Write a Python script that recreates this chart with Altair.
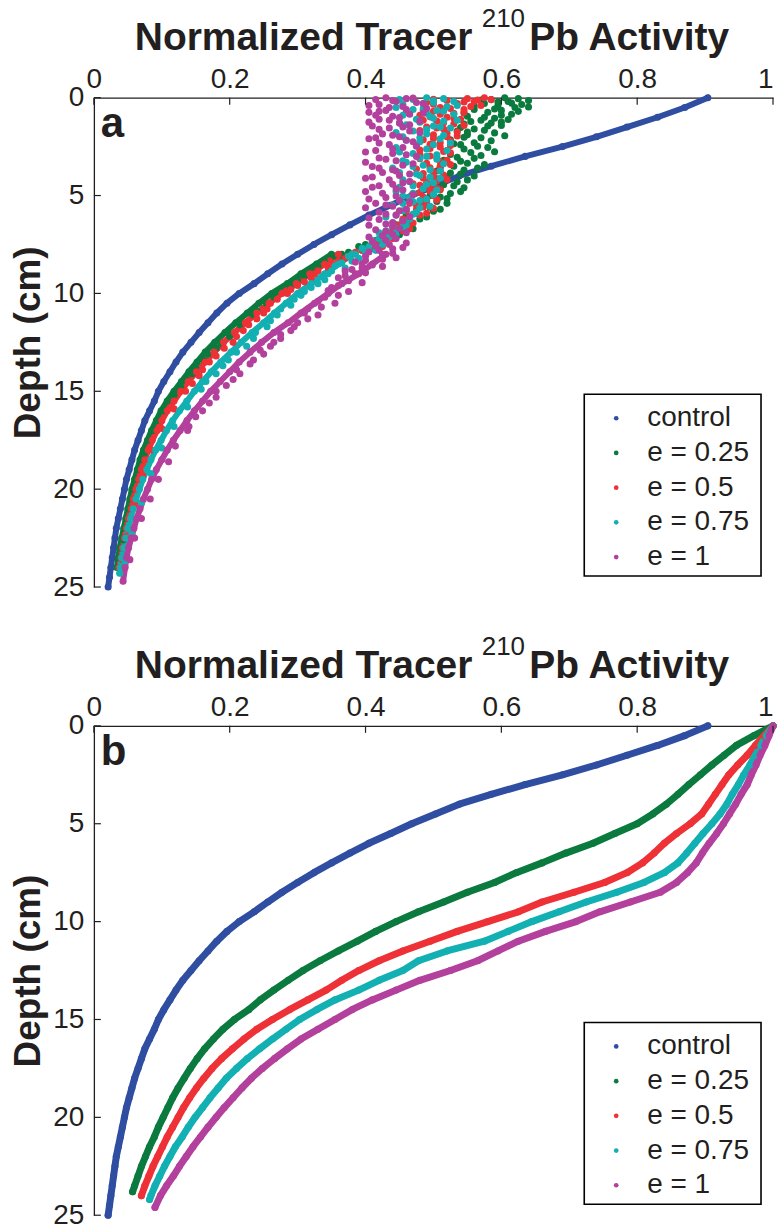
import altair as alt
import pandas as pd

FONT = "Liberation Sans"
INK = "#231f20"
SERIES = ["control", "e = 0.25", "e = 0.5", "e = 0.75", "e = 1"]
COLORS = ["#2f4ea2", "#0a7a3e", "#ee3136", "#12b0b2", "#b2409c"]
X_TICKS = [0, 0.2, 0.4, 0.6, 0.8, 1]
Y_TICKS = [0, 5, 10, 15, 20, 25]

# ---- control profile (depth cm, normalized activity) ----
control = [(0.0, 0.904), (0.5, 0.87), (1.0, 0.83), (1.5, 0.785), (2.0, 0.74), (2.5, 0.69),
           (3.0, 0.635), (3.5, 0.585), (4.0, 0.538), (4.5, 0.503), (5.0, 0.468), (5.5, 0.437),
           (6.0, 0.405), (6.5, 0.377), (7.0, 0.35), (7.5, 0.324), (8.0, 0.300), (8.5, 0.277),
           (9.0, 0.256), (9.5, 0.236), (10.0, 0.214), (10.5, 0.196), (11.0, 0.181), (11.5, 0.168),
           (12.0, 0.155), (12.5, 0.143), (13.0, 0.131), (13.5, 0.121), (14.0, 0.112), (14.5, 0.103),
           (15.0, 0.095), (15.5, 0.089), (16.0, 0.082), (16.5, 0.075), (17.0, 0.070), (17.5, 0.065),
           (18.0, 0.060), (18.5, 0.056), (19.0, 0.052), (19.5, 0.048), (20.0, 0.045), (20.5, 0.042),
           (21.0, 0.039), (21.5, 0.036), (22.0, 0.033), (22.5, 0.031), (23.0, 0.029), (23.5, 0.027),
           (24.0, 0.025), (24.5, 0.023), (25.0, 0.021)]

# ---- panel b profiles ----
b_e025 = [(0, 1.0), (0.5, 0.972), (1, 0.946), (1.5, 0.928), (2, 0.91), (2.5, 0.893), (3, 0.876),
          (3.5, 0.86), (4, 0.843), (4.5, 0.823), (5, 0.8), (5.5, 0.767), (6, 0.735), (6.5, 0.695),
          (7, 0.66), (7.5, 0.622), (8, 0.59), (8.5, 0.55), (9, 0.515), (9.5, 0.478), (10, 0.445),
          (10.5, 0.415), (11, 0.388), (11.5, 0.36), (12, 0.333), (12.5, 0.308), (13, 0.286),
          (13.5, 0.265), (14, 0.245), (14.5, 0.228), (15, 0.207), (15.5, 0.19), (16, 0.176),
          (16.5, 0.163), (17, 0.152), (17.5, 0.142), (18, 0.133), (18.5, 0.124), (19, 0.116),
          (19.5, 0.109), (20, 0.102), (20.5, 0.095), (21, 0.089), (21.5, 0.082), (22, 0.076),
          (22.5, 0.07), (23, 0.065), (23.5, 0.06), (23.8, 0.057)]
b_e050 = [(0, 1.0), (0.5, 0.987), (1, 0.974), (1.5, 0.962), (2, 0.948), (2.5, 0.935), (3, 0.925),
          (3.5, 0.915), (4, 0.905), (4.5, 0.895), (5, 0.878), (5.5, 0.858), (6, 0.84), (6.5, 0.825),
          (7, 0.808), (7.5, 0.785), (8, 0.752), (8.5, 0.707), (9, 0.66), (9.5, 0.625), (10, 0.58),
          (10.5, 0.535), (11, 0.495), (11.5, 0.455), (12, 0.42), (12.5, 0.39), (13, 0.365),
          (13.5, 0.342), (14, 0.315), (14.5, 0.288), (15, 0.263), (15.5, 0.24), (16, 0.221),
          (16.5, 0.204), (17, 0.188), (17.5, 0.174), (18, 0.162), (18.5, 0.151), (19, 0.141),
          (19.5, 0.132), (20, 0.124), (20.5, 0.116), (21, 0.108), (21.5, 0.101), (22, 0.094),
          (22.5, 0.087), (23, 0.081), (23.5, 0.075), (24, 0.07)]
b_e075 = [(0, 1.0), (0.5, 0.99), (1, 0.982), (1.5, 0.974), (2, 0.966), (2.5, 0.957), (3, 0.949),
          (3.5, 0.94), (4, 0.932), (4.5, 0.922), (5, 0.91), (5.5, 0.897), (6, 0.885), (6.5, 0.873),
          (7, 0.86), (7.5, 0.84), (8, 0.81), (8.5, 0.77), (9, 0.725), (9.5, 0.685), (10, 0.645),
          (10.5, 0.61), (11, 0.575), (11.5, 0.52), (12, 0.478), (12.5, 0.455), (13, 0.42),
          (13.5, 0.39), (14, 0.355), (14.5, 0.328), (15, 0.303), (15.5, 0.283), (16, 0.263),
          (16.5, 0.244), (17, 0.226), (17.5, 0.21), (18, 0.195), (18.5, 0.183), (19, 0.171),
          (19.5, 0.16), (20, 0.149), (20.5, 0.139), (21, 0.13), (21.5, 0.12), (22, 0.112),
          (22.5, 0.104), (23, 0.097), (23.5, 0.09), (24, 0.084), (24.2, 0.082)]
b_e1 = [(0, 1.0), (0.5, 0.994), (1, 0.988), (1.5, 0.981), (2, 0.975), (2.5, 0.968), (3, 0.962),
        (3.5, 0.953), (4, 0.945), (4.5, 0.936), (5, 0.927), (5.5, 0.917), (6, 0.906), (6.5, 0.896),
        (7, 0.887), (7.5, 0.874), (8, 0.858), (8.5, 0.834), (9, 0.79), (9.5, 0.745), (10, 0.71),
        (10.5, 0.665), (11, 0.625), (11.5, 0.595), (12, 0.565), (12.5, 0.525), (13, 0.48),
        (13.5, 0.445), (14, 0.41), (14.5, 0.38), (15, 0.355), (15.5, 0.33), (16, 0.305),
        (16.5, 0.285), (17, 0.266), (17.5, 0.248), (18, 0.232), (18.5, 0.218), (19, 0.205),
        (19.5, 0.192), (20, 0.18), (20.5, 0.168), (21, 0.157), (21.5, 0.146), (22, 0.136),
        (22.5, 0.126), (23, 0.117), (23.5, 0.107), (24, 0.098), (24.6, 0.09)]

# ---- panel a: smooth lower bands ----
a_e025 = [(8, 0.35), (8.5, 0.328), (9, 0.305), (9.5, 0.285), (10, 0.262), (10.5, 0.243), (11, 0.226),
          (11.5, 0.209), (12, 0.193), (12.5, 0.178), (13, 0.164), (13.5, 0.152), (14, 0.14),
          (14.5, 0.129), (15, 0.118), (15.5, 0.108), (16, 0.099), (16.5, 0.092), (17, 0.085),
          (17.5, 0.079), (18, 0.073), (18.5, 0.068), (19, 0.064), (19.5, 0.06), (20, 0.056),
          (20.5, 0.053), (21, 0.05), (21.5, 0.047), (22, 0.044), (22.5, 0.041), (23, 0.038),
          (23.5, 0.036), (24, 0.034)]
a_e050 = [(8, 0.36), (8.5, 0.34), (9, 0.318), (9.5, 0.298), (10, 0.277), (10.5, 0.258), (11, 0.24),
          (11.5, 0.223), (12, 0.207), (12.5, 0.191), (13, 0.177), (13.5, 0.164), (14, 0.151),
          (14.5, 0.139), (15, 0.128), (15.5, 0.118), (16, 0.108), (16.5, 0.1), (17, 0.093),
          (17.5, 0.086), (18, 0.08), (18.5, 0.075), (19, 0.07), (19.5, 0.066), (20, 0.062),
          (20.5, 0.058), (21, 0.055), (21.5, 0.051), (22, 0.048), (22.5, 0.045), (23, 0.042),
          (23.5, 0.04), (24, 0.037)]
a_e075 = [(8, 0.38), (8.5, 0.36), (9, 0.34), (9.5, 0.32), (10, 0.30), (10.5, 0.283), (11, 0.266),
          (11.5, 0.25), (12, 0.233), (12.5, 0.217), (13, 0.202), (13.5, 0.187), (14, 0.173),
          (14.5, 0.16), (15, 0.148), (15.5, 0.137), (16, 0.126), (16.5, 0.116), (17, 0.107),
          (17.5, 0.099), (18, 0.091), (18.5, 0.084), (19, 0.078), (19.5, 0.072), (20, 0.067),
          (20.5, 0.062), (21, 0.058), (21.5, 0.054), (22, 0.05), (22.5, 0.047), (23, 0.044),
          (23.5, 0.041), (24, 0.039), (24.3, 0.038)]
a_e1 = [(8, 0.43), (8.5, 0.41), (9, 0.39), (9.5, 0.365), (10, 0.345), (10.5, 0.325), (11, 0.305),
        (11.5, 0.286), (12, 0.265), (12.5, 0.247), (13, 0.23), (13.5, 0.214), (14, 0.2),
        (14.5, 0.186), (15, 0.172), (15.5, 0.16), (16, 0.148), (16.5, 0.137), (17, 0.127),
        (17.5, 0.117), (18, 0.108), (18.5, 0.1), (19, 0.092), (19.5, 0.085), (20, 0.079),
        (20.5, 0.073), (21, 0.068), (21.5, 0.063), (22, 0.059), (22.5, 0.055), (23, 0.051),
        (23.5, 0.048), (24, 0.046), (24.7, 0.043)]

# ---- panel a: scattered points (upper clouds and band scatter) ----
a_e025_cloud = [(0.0, 0.605), (0.05, 0.625), (0.1, 0.585), (0.15, 0.64), (0.2, 0.61), (0.3, 0.575),
                (0.35, 0.63), (0.4, 0.595), (0.5, 0.62), (0.6, 0.56), (0.65, 0.6), (0.75, 0.58),
                (0.85, 0.615), (0.95, 0.55), (1.05, 0.59), (1.15, 0.57), (1.25, 0.6), (1.35, 0.545),
                (1.45, 0.58), (1.6, 0.56), (1.7, 0.535), (1.8, 0.59), (1.9, 0.55), (2.05, 0.57),
                (2.15, 0.525), (2.3, 0.56), (2.4, 0.54), (2.55, 0.58), (2.7, 0.52), (2.8, 0.555),
                (2.95, 0.57), (3.05, 0.535), (3.2, 0.515), (3.35, 0.55), (3.5, 0.53), (3.6, 0.565),
                (3.75, 0.505), (3.9, 0.54), (4.05, 0.52), (4.2, 0.55), (4.35, 0.5), (4.5, 0.53),
                (4.65, 0.51), (4.8, 0.54), (5.0, 0.495), (5.15, 0.52), (5.3, 0.505), (5.5, 0.485),
                (5.7, 0.51), (5.9, 0.475), (6.1, 0.49), (6.3, 0.465), (6.5, 0.445), (6.7, 0.47),
                (6.9, 0.43), (7.1, 0.44), (7.3, 0.415), (7.5, 0.4), (7.7, 0.41), (7.9, 0.375),
                (8.1, 0.355), (8.3, 0.365), (8.6, 0.33), (8.9, 0.325), (9.3, 0.3), (9.7, 0.29),
                (10.2, 0.265), (10.6, 0.255), (11.1, 0.235), (11.6, 0.215), (12.2, 0.2), (12.8, 0.18),
                (13.4, 0.162), (14.1, 0.145), (14.8, 0.128)]
a_e025_cloud2 = [(0.12, 0.57), (0.22, 0.595), (0.28, 0.615), (0.42, 0.56), (0.48, 0.64), (0.58, 0.59),
                 (0.7, 0.625), (0.78, 0.545), (0.9, 0.6), (1.0, 0.575), (1.12, 0.61), (1.22, 0.555),
                 (1.3, 0.585), (1.42, 0.6), (1.52, 0.54), (1.66, 0.575), (1.76, 0.55), (1.95, 0.605),
                 (2.02, 0.545), (2.2, 0.585), (2.35, 0.53), (2.48, 0.565), (2.62, 0.545), (2.76, 0.59),
                 (2.9, 0.525), (3.1, 0.56), (3.25, 0.54), (3.42, 0.575), (3.55, 0.51), (3.7, 0.545),
                 (3.85, 0.525), (4.0, 0.56), (4.15, 0.505), (4.3, 0.535), (4.45, 0.515), (4.6, 0.545),
                 (4.75, 0.495), (4.9, 0.525), (5.08, 0.51), (5.22, 0.49), (5.4, 0.52), (5.6, 0.495),
                 (5.8, 0.5), (6.0, 0.46), (6.2, 0.48), (6.4, 0.455), (6.6, 0.465), (6.8, 0.44),
                 (7.0, 0.45), (7.2, 0.425), (7.4, 0.42), (7.6, 0.39), (7.8, 0.395), (8.0, 0.365),
                 (8.4, 0.34), (8.8, 0.32), (9.1, 0.31), (9.5, 0.295), (9.9, 0.27), (10.4, 0.252),
                 (10.9, 0.24), (11.4, 0.215), (12.0, 0.198), (12.6, 0.188), (13.1, 0.168), (13.8, 0.15),
                 (14.4, 0.137), (15.2, 0.118), (16.0, 0.104), (17.0, 0.088), (18.2, 0.074),
                 (19.5, 0.062), (21.0, 0.052), (22.6, 0.043)]
a_e050_cloud = [(0.0, 0.575), (0.05, 0.55), (0.1, 0.585), (0.15, 0.52), (0.2, 0.56), (0.25, 0.49),
                (0.3, 0.535), (0.4, 0.57), (0.5, 0.51), (0.6, 0.545), (0.7, 0.5), (0.8, 0.53),
                (0.9, 0.48), (1.0, 0.52), (1.1, 0.54), (1.2, 0.505), (1.35, 0.53), (1.5, 0.49),
                (1.6, 0.515), (1.75, 0.535), (1.9, 0.5), (2.0, 0.52), (2.15, 0.485), (2.3, 0.51),
                (2.45, 0.525), (2.6, 0.495), (2.75, 0.515), (2.9, 0.48), (3.05, 0.505), (3.2, 0.52),
                (3.35, 0.49), (3.5, 0.51), (3.65, 0.475), (3.8, 0.5), (3.95, 0.515), (4.1, 0.485),
                (4.25, 0.505), (4.4, 0.47), (4.55, 0.495), (4.7, 0.51), (4.85, 0.48), (5.0, 0.5),
                (5.15, 0.465), (5.3, 0.49), (5.5, 0.475), (5.65, 0.5), (5.8, 0.46), (6.0, 0.48),
                (6.2, 0.455), (6.4, 0.47), (6.6, 0.44), (6.8, 0.455), (7.0, 0.43), (7.2, 0.44),
                (7.4, 0.415), (7.6, 0.425), (7.8, 0.395), (8.0, 0.38), (8.2, 0.37), (8.45, 0.35),
                (8.7, 0.345), (9.0, 0.325), (9.4, 0.31), (9.8, 0.29), (10.3, 0.27), (10.8, 0.255),
                (11.3, 0.24), (11.9, 0.22), (12.5, 0.205), (13.2, 0.18), (13.9, 0.16), (14.6, 0.145)]
a_e050_cloud2 = [(0.08, 0.5), (0.12, 0.565), (0.22, 0.545), (0.33, 0.5), (0.45, 0.555), (0.55, 0.525),
                 (0.65, 0.485), (0.75, 0.545), (0.85, 0.51), (0.98, 0.495), (1.05, 0.53), (1.15, 0.485),
                 (1.28, 0.515), (1.42, 0.545), (1.55, 0.505), (1.68, 0.48), (1.82, 0.52), (1.96, 0.535),
                 (2.08, 0.5), (2.22, 0.525), (2.38, 0.495), (2.52, 0.51), (2.68, 0.48), (2.82, 0.525),
                 (2.98, 0.495), (3.12, 0.48), (3.28, 0.51), (3.42, 0.525), (3.58, 0.495), (3.72, 0.51),
                 (3.88, 0.485), (4.02, 0.5), (4.18, 0.52), (4.32, 0.49), (4.48, 0.48), (4.62, 0.505),
                 (4.78, 0.495), (4.92, 0.47), (5.08, 0.485), (5.22, 0.505), (5.4, 0.465), (5.58, 0.485),
                 (5.72, 0.475), (5.9, 0.49), (6.1, 0.465), (6.3, 0.46), (6.5, 0.45), (6.7, 0.465),
                 (6.9, 0.44), (7.1, 0.425), (7.3, 0.43), (7.5, 0.41), (7.7, 0.405), (7.9, 0.385),
                 (8.1, 0.375), (8.35, 0.36), (8.6, 0.35), (8.85, 0.33), (9.2, 0.32), (9.6, 0.3),
                 (10.0, 0.285), (10.5, 0.26), (11.0, 0.25), (11.6, 0.228), (12.2, 0.21), (12.8, 0.192),
                 (13.5, 0.17), (14.2, 0.155), (15.0, 0.135), (15.9, 0.118), (16.9, 0.1), (18.0, 0.085),
                 (19.3, 0.072), (20.8, 0.06), (22.4, 0.049), (23.6, 0.042)]
a_e075_cloud = [(0.0, 0.49), (0.05, 0.515), (0.1, 0.47), (0.2, 0.53), (0.25, 0.5), (0.35, 0.455),
                (0.45, 0.52), (0.55, 0.485), (0.65, 0.505), (0.75, 0.46), (0.85, 0.53), (0.95, 0.495),
                (1.1, 0.475), (1.2, 0.515), (1.3, 0.45), (1.45, 0.5), (1.55, 0.525), (1.7, 0.47),
                (1.85, 0.49), (2.0, 0.455), (2.1, 0.51), (2.25, 0.48), (2.4, 0.5), (2.55, 0.445),
                (2.7, 0.52), (2.85, 0.47), (3.0, 0.49), (3.15, 0.505), (3.3, 0.46), (3.45, 0.485),
                (3.6, 0.44), (3.75, 0.51), (3.9, 0.475), (4.05, 0.495), (4.2, 0.455), (4.35, 0.5),
                (4.5, 0.47), (4.65, 0.485), (4.8, 0.445), (4.95, 0.5), (5.1, 0.465), (5.25, 0.48),
                (5.4, 0.455), (5.55, 0.495), (5.7, 0.46), (5.85, 0.475), (6.0, 0.445), (6.2, 0.465),
                (6.4, 0.44), (6.6, 0.455), (6.8, 0.43), (7.0, 0.445), (7.2, 0.42), (7.4, 0.43),
                (7.6, 0.405), (7.8, 0.415), (8.0, 0.385), (8.2, 0.39), (8.45, 0.365), (8.7, 0.37),
                (9.0, 0.345), (9.3, 0.34), (9.7, 0.32), (10.1, 0.305), (10.6, 0.29), (11.1, 0.27),
                (11.7, 0.255), (12.3, 0.235), (13.0, 0.21), (13.7, 0.19), (14.5, 0.165)]
a_e075_cloud2 = [(0.1, 0.45), (0.15, 0.5), (0.3, 0.485), (0.4, 0.535), (0.5, 0.445), (0.6, 0.47),
                 (0.7, 0.515), (0.8, 0.49), (0.9, 0.455), (1.05, 0.5), (1.15, 0.535), (1.25, 0.48),
                 (1.38, 0.46), (1.5, 0.51), (1.62, 0.49), (1.78, 0.445), (1.92, 0.515), (2.05, 0.48),
                 (2.18, 0.46), (2.32, 0.525), (2.46, 0.475), (2.62, 0.49), (2.78, 0.45), (2.92, 0.505),
                 (3.08, 0.48), (3.22, 0.455), (3.38, 0.515), (3.52, 0.47), (3.68, 0.495), (3.82, 0.45),
                 (3.98, 0.48), (4.12, 0.51), (4.28, 0.465), (4.42, 0.49), (4.58, 0.45), (4.72, 0.505),
                 (4.88, 0.47), (5.02, 0.455), (5.18, 0.49), (5.32, 0.47), (5.48, 0.44), (5.62, 0.48),
                 (5.78, 0.455), (5.95, 0.47), (6.1, 0.43), (6.3, 0.455), (6.5, 0.46), (6.7, 0.445),
                 (6.9, 0.42), (7.1, 0.435), (7.3, 0.41), (7.5, 0.425), (7.7, 0.395), (7.9, 0.4),
                 (8.1, 0.375), (8.35, 0.38), (8.6, 0.355), (8.85, 0.35), (9.15, 0.335), (9.5, 0.33),
                 (9.9, 0.31), (10.3, 0.295), (10.8, 0.275), (11.4, 0.26), (12.0, 0.238), (12.7, 0.225),
                 (13.4, 0.198), (14.1, 0.18), (14.9, 0.158), (15.8, 0.138), (16.8, 0.118), (17.9, 0.1),
                 (19.2, 0.084), (20.7, 0.07), (22.3, 0.056), (23.7, 0.046)]
a_e1_cloud = [(0.0, 0.43), (0.05, 0.46), (0.1, 0.415), (0.2, 0.445), (0.25, 0.475), (0.35, 0.42),
              (0.45, 0.455), (0.55, 0.49), (0.65, 0.43), (0.75, 0.405), (0.85, 0.465), (0.95, 0.44),
              (1.1, 0.42), (1.2, 0.48), (1.3, 0.45), (1.45, 0.41), (1.55, 0.435), (1.7, 0.465),
              (1.85, 0.425), (2.0, 0.45), (2.1, 0.405), (2.25, 0.47), (2.4, 0.435), (2.55, 0.455),
              (2.7, 0.415), (2.85, 0.44), (3.0, 0.475), (3.15, 0.43), (3.3, 0.4), (3.45, 0.455),
              (3.6, 0.42), (3.75, 0.445), (3.9, 0.465), (4.05, 0.41), (4.2, 0.435), (4.35, 0.455),
              (4.5, 0.42), (4.65, 0.445), (4.8, 0.4), (4.95, 0.47), (5.1, 0.43), (5.25, 0.45),
              (5.4, 0.415), (5.55, 0.44), (5.7, 0.46), (5.85, 0.42), (6.0, 0.445), (6.15, 0.405),
              (6.3, 0.455), (6.45, 0.43), (6.6, 0.44), (6.75, 0.415), (6.9, 0.46), (7.05, 0.425),
              (7.2, 0.445), (7.35, 0.41), (7.5, 0.435), (7.65, 0.455), (7.8, 0.42), (7.95, 0.44),
              (8.1, 0.4), (8.25, 0.425), (8.4, 0.385), (8.55, 0.41), (8.7, 0.395), (8.85, 0.37),
              (9.0, 0.385), (9.2, 0.36), (9.45, 0.395), (9.7, 0.35), (9.9, 0.375), (10.2, 0.34),
              (10.5, 0.355), (10.8, 0.315), (11.1, 0.33), (11.5, 0.3), (11.9, 0.29), (12.3, 0.275),
              (12.7, 0.26), (13.1, 0.25), (13.6, 0.23), (14.1, 0.215), (14.7, 0.195), (15.3, 0.18),
              (16.0, 0.16), (16.8, 0.14)]
a_e1_cloud2 = [(0.02, 0.47), (0.15, 0.44), (0.3, 0.485), (0.4, 0.405), (0.5, 0.435), (0.6, 0.46),
               (0.7, 0.42), (0.8, 0.485), (0.9, 0.415), (1.02, 0.45), (1.15, 0.435), (1.25, 0.405),
               (1.38, 0.465), (1.5, 0.455), (1.62, 0.42), (1.78, 0.48), (1.92, 0.44), (2.05, 0.415),
               (2.18, 0.46), (2.32, 0.42), (2.48, 0.475), (2.62, 0.44), (2.78, 0.4), (2.92, 0.46),
               (3.08, 0.42), (3.22, 0.445), (3.38, 0.47), (3.52, 0.41), (3.68, 0.44), (3.82, 0.425),
               (3.98, 0.45), (4.12, 0.4), (4.28, 0.465), (4.42, 0.44), (4.58, 0.41), (4.72, 0.455),
               (4.88, 0.425), (5.02, 0.445), (5.18, 0.405), (5.32, 0.465), (5.48, 0.43), (5.62, 0.4),
               (5.78, 0.45), (5.95, 0.43), (6.08, 0.465), (6.22, 0.42), (6.38, 0.44), (6.52, 0.405),
               (6.68, 0.45), (6.82, 0.43), (6.98, 0.44), (7.12, 0.405), (7.28, 0.43), (7.42, 0.46),
               (7.58, 0.415), (7.72, 0.44), (7.88, 0.405), (8.02, 0.425), (8.18, 0.445), (8.32, 0.4),
               (8.48, 0.395), (8.62, 0.425), (8.78, 0.38), (8.95, 0.4), (9.1, 0.37), (9.35, 0.375),
               (9.6, 0.36), (9.85, 0.345), (10.1, 0.36), (10.4, 0.33), (10.7, 0.335), (11.0, 0.31),
               (11.3, 0.315), (11.7, 0.295), (12.1, 0.275), (12.5, 0.265), (12.9, 0.245), (13.4, 0.235),
               (13.9, 0.21), (14.4, 0.205), (15.0, 0.18), (15.6, 0.17), (16.3, 0.15), (17.0, 0.138),
               (17.8, 0.12), (18.6, 0.11), (19.5, 0.095), (20.5, 0.083), (21.5, 0.07), (22.5, 0.06),
               (23.6, 0.053)]

PANEL_A_CURVES = {"control": control, "e = 0.25": a_e025, "e = 0.5": a_e050,
                  "e = 0.75": a_e075, "e = 1": a_e1}
PANEL_A_CLOUDS = {"e = 0.25": a_e025_cloud + a_e025_cloud2,
                  "e = 0.5": a_e050_cloud + a_e050_cloud2,
                  "e = 0.75": a_e075_cloud + a_e075_cloud2,
                  "e = 1": a_e1_cloud + a_e1_cloud2}
PANEL_B_CURVES = {"control": control, "e = 0.25": b_e025, "e = 0.5": b_e050,
                  "e = 0.75": b_e075, "e = 1": b_e1}


def curves_df(curves):
    rows = []
    for s in SERIES:
        for d, v in curves.get(s, []):
            rows.append({"series": s, "depth": d, "x": v})
    return pd.DataFrame(rows)


def points_df(curves, clouds):
    rows = []
    for s in SERIES:
        for d, v in curves.get(s, []) + clouds.get(s, []):
            rows.append({"series": s, "depth": d, "x": v})
    df = pd.DataFrame(rows)
    df["idx"] = range(len(df))
    return df


def x_enc(field):
    return alt.X(
        f"{field}:Q",
        scale=alt.Scale(domain=[0, 1], nice=False, zero=False),
        axis=alt.Axis(orient="top", values=X_TICKS, format="~g", title=None, ticks=False,
                      grid=False, labelFont=FONT, labelFontSize=28, labelColor=INK,
                      labelPadding=4, domainColor=INK, domainWidth=1.3,
                      labelAlign={"condition": {"test": "datum.value >= 1", "value": "right"},
                                  "value": "center"}),
    )


def y_enc(field):
    return alt.Y(
        f"{field}:Q",
        scale=alt.Scale(domain=[0, 25], reverse=True, nice=False, zero=False),
        axis=alt.Axis(values=Y_TICKS, format="~g", title="Depth (cm)", ticks=False, grid=False,
                      labelFont=FONT, labelFontSize=28, labelColor=INK, labelPadding=10,
                      domainColor=INK, domainWidth=1.3, titleFont=FONT, titleFontSize=37,
                      titleFontWeight="bold", titleColor=INK, titlePadding=5),
    )


def text_layer(txt, x, y, size, weight, align):
    return alt.Chart(pd.DataFrame({"t": [txt]})).mark_text(
        font=FONT, fontSize=size, fontWeight=weight, color=INK, align=align,
        baseline="alphabetic").encode(x=alt.value(x), y=alt.value(y), text="t:N")


def panel(curves, clouds, letter, band_width):
    lines = curves_df(curves)
    pts = points_df(curves, clouds)
    layers = []
    for s, col in zip(SERIES, COLORS):
        sub = lines[lines["series"] == s]
        layers.append(
            alt.Chart(sub).mark_line(color=col, strokeWidth=band_width, strokeCap="round",
                                     strokeJoin="round").encode(
                x=x_enc("x"), y=y_enc("depth"), order=alt.Order("depth:Q"))
        )
    layers.append(
        alt.Chart(pts).mark_circle(size=50, opacity=1).encode(
            x=x_enc("x"), y=y_enc("depth"),
            color=alt.Color("series:N", scale=alt.Scale(domain=SERIES, range=COLORS),
                            legend=alt.Legend(orient="none", legendX=491, legendY=300, title=None,
                                              padding=7, labelFont=FONT, labelFontSize=28,
                                              labelColor=INK, labelLimit=110, symbolSize=22,
                                              symbolType="circle", symbolStrokeWidth=0,
                                              rowPadding=6.75, labelOffset=17, symbolOffset=11)),
            order=alt.Order("idx:Q"))
    )
    # legend frame (white box with black border) drawn behind the legend entries
    layers.append(
        alt.Chart(pd.DataFrame({"k": [0]})).mark_rect(
            fill="white", stroke="black", strokeWidth=1.6).encode(
            x=alt.value(491), x2=alt.value(668), y=alt.value(297), y2=alt.value(479))
    )
    layers.append(
        alt.Chart(pd.DataFrame({"t": X_TICKS})).mark_rule(color=INK, strokeWidth=1.2).encode(
            x=x_enc("t"), y=alt.value(0), y2=alt.value(7))
    )
    layers.append(
        alt.Chart(pd.DataFrame({"t": Y_TICKS})).mark_rule(color=INK, strokeWidth=1.2).encode(
            y=y_enc("t"), x=alt.value(0), x2=alt.value(7))
    )
    layers.append(text_layer("Normalized Tracer", 379, -48, 39, "bold", "right"))
    layers.append(text_layer("210", 410, -71, 26, "normal", "center"))
    layers.append(text_layer("Pb Activity", 436, -48, 39, "bold", "left"))
    layers.append(text_layer(letter, 7, 39, 42, "bold", "left"))
    return alt.layer(*layers).properties(width=680, height=490)


chart = alt.vconcat(
    panel(PANEL_A_CURVES, PANEL_A_CLOUDS, "a", 6),
    panel(PANEL_B_CURVES, {}, "b", 7),
    spacing=139,
).properties(
    bounds="flush",
    padding={"left": 9, "top": 5, "right": 0, "bottom": 0},
    background="white",
).resolve_scale(color="independent").configure_view(stroke=None)

chart.save("out.html", embed_options={"renderer": "svg", "actions": False})
